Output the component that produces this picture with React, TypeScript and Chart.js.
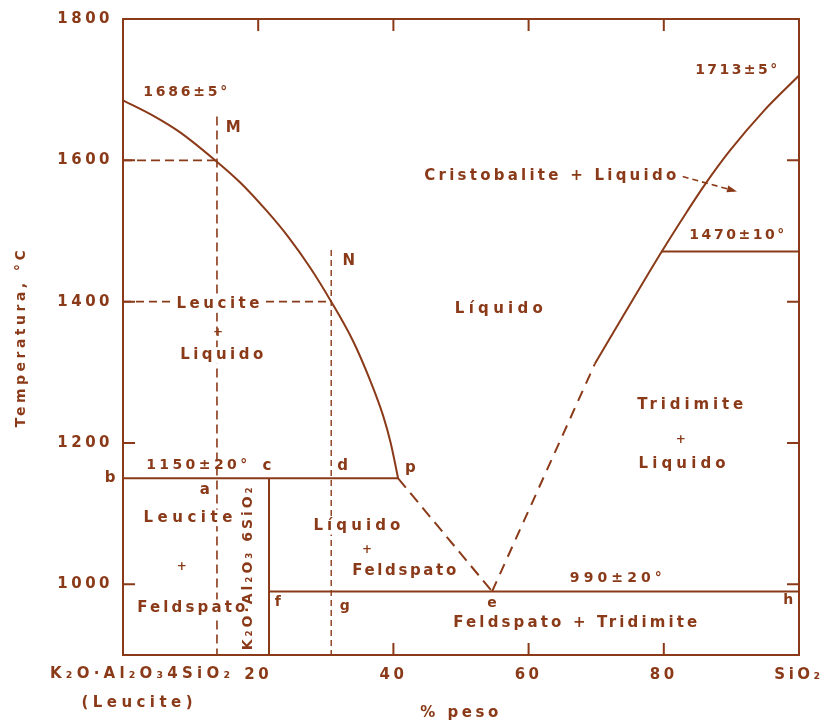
import React, { useEffect, useRef } from 'react';
import { Chart, registerables } from 'chart.js';

Chart.register(...registerables);

const INK = '#8a3a18';
const FONT = '"DejaVu Sans", sans-serif';

// ---- data (x = % peso SiO2 added to leucite, T = °C) ----
const leucLiqX = [0, 4.5, 8.4, 13.4, 17.3, 21.3, 24.5, 27.7, 30.8, 34.1, 36.5, 38.5, 39.6, 40.7];
const leucLiqT = [1685, 1663, 1640, 1602, 1569, 1528, 1491, 1448, 1400, 1343, 1290, 1238, 1200, 1150];
const solidusX = [0, 40.7];
const solidusT = [1150, 1150];
const compoundX = [21.6, 21.6];
const compoundT = [1150, 900];
const eutecticX = [21.6, 100];
const eutecticT = [990, 990];
const pToEX = [40.7, 54.6];
const pToET = [1150, 990];
const eUpX = [54.6, 69.8];
const eUpT = [990, 1312];
const silicaLiqX = [69.8, 74.0, 79.7, 83.4, 86.1, 89.8, 94.7, 100];
const silicaLiqT = [1312, 1380, 1471, 1527, 1566, 1614, 1669, 1720];
const inversionX = [79.7, 100];
const inversionT = [1471, 1471];
const mVertX = [13.9, 13.9];
const mVertT = [1662, 900];
const mHorX = [0, 13.9];
const mHorT = [1600, 1600];
const nVertX = [30.8, 30.8];
const nVertT = [1473, 900];
const nHorX = [0, 30.8];
const nHorT = [1400, 1400];

const xTickValues = [0, 20, 40, 60, 80, 100];
const yTickValues = [1000, 1200, 1400, 1600, 1800];
const topTickX = [20, 40, 60, 80];
const bottomTickX = [40, 60, 80];
const sideTickT = [1000, 1200, 1400, 1600];

type Lbl = { t: string; x: number; y: number; s?: number; w?: number; bg?: boolean; rot?: boolean };
const labels: Lbl[] = [
  { t: '1686±5°', x: 9.2, y: 1696, s: 14, w: 84 },
  { t: 'M', x: 16.3, y: 1646, s: 15 },
  { t: 'N', x: 33.4, y: 1457, s: 15 },
  { t: 'Leucite', x: 14.05, y: 1396, s: 15, w: 83, bg: true },
  { t: '+', x: 14.05, y: 1356, s: 12 },
  { t: 'Liquido', x: 14.6, y: 1324, s: 15, w: 83, bg: true },
  { t: 'Líquido', x: 55.6, y: 1389, s: 15, w: 88 },
  { t: 'Cristobalite + Liquido', x: 63.2, y: 1578, s: 15, w: 252 },
  { t: '1713±5°', x: 90.7, y: 1728, s: 14, w: 82 },
  { t: '1470±10°', x: 90.8, y: 1494, s: 14, w: 95 },
  { t: 'Tridimite', x: 83.9, y: 1254, s: 15, w: 106 },
  { t: '+', x: 82.5, y: 1205, s: 12 },
  { t: 'Liquido', x: 82.7, y: 1170, s: 15, w: 87 },
  { t: '1150±20°', x: 10.9, y: 1168, s: 14, w: 101 },
  { t: 'c', x: 21.3, y: 1167, s: 15 },
  { t: 'd', x: 32.5, y: 1167, s: 15 },
  { t: 'p', x: 42.5, y: 1164, s: 15 },
  { t: 'b', x: -1.9, y: 1150, s: 15 },
  { t: 'a', x: 12.1, y: 1134, s: 15 },
  { t: 'Leucite', x: 9.6, y: 1094, s: 15, w: 89, bg: true },
  { t: '+', x: 8.7, y: 1025, s: 12 },
  { t: 'Feldspato', x: 10.1, y: 967, s: 15, w: 108, bg: true },
  { t: 'Líquido', x: 34.6, y: 1082, s: 15, w: 87, bg: true },
  { t: '+', x: 36.1, y: 1049, s: 12 },
  { t: 'Feldspato', x: 41.6, y: 1019, s: 15, w: 104 },
  { t: 'f', x: 22.9, y: 974, s: 14 },
  { t: 'g', x: 32.8, y: 969, s: 14 },
  { t: '990±20°', x: 72.9, y: 1009, s: 14, w: 92 },
  { t: 'e', x: 54.6, y: 973, s: 14 },
  { t: 'h', x: 98.4, y: 977, s: 14 },
  { t: 'Feldspato + Tridimite', x: 66.9, y: 945, s: 15, w: 244 },
  { t: 'K₂O·Al₂O₃ 6SiO₂', x: 18.5, y: 1022, s: 14, w: 163, rot: true },
];

const arrowFrom = { x: 82.8, y: 1577 };
const arrowTo = { x: 90.4, y: 1557 };

const pts = (xs: number[], ts: number[]) => xs.map((x, i) => ({ x, y: ts[i] }));

function drawText(ctx: CanvasRenderingContext2D, text: string, px: number, py: number, size: number, target?: number, bg = false, rot = false) {
  ctx.save();
  ctx.font = `bold ${size}px ${FONT}`;
  (ctx as any).letterSpacing = '0px';
  const n = [...text].length;
  const base = ctx.measureText(text).width;
  const spacing = target && n > 1 ? Math.max(0, (target - base) / (n - 1)) : 0;
  const w = base + spacing * (n - 1);
  (ctx as any).letterSpacing = `${spacing}px`;
  ctx.textBaseline = 'middle';
  ctx.textAlign = 'left';
  ctx.translate(px, py);
  if (rot) ctx.rotate(-Math.PI / 2);
  if (bg) {
    ctx.fillStyle = '#ffffff';
    ctx.fillRect(-w / 2 - 3, -size * 0.55, w + 6, size * 1.1);
  }
  ctx.fillStyle = INK;
  ctx.fillText(text, -w / 2, 0);
  ctx.restore();
}

const annotatePlugin = {
  id: 'annotate',
  beforeDraw(chart: any) {
    chart.ctx.letterSpacing = '3.5px';
  },
  afterDraw(chart: any) {
    const { ctx, chartArea } = chart;
    const xs = chart.scales.x;
    const ys = chart.scales.y;
    ctx.save();
    ctx.letterSpacing = '0px';
    ctx.strokeStyle = INK;
    ctx.lineWidth = 2;
    ctx.setLineDash([]);
    ctx.beginPath();
    for (const v of sideTickT) {
      const py = ys.getPixelForValue(v);
      ctx.moveTo(chartArea.left, py);
      ctx.lineTo(chartArea.left + 12, py);
      ctx.moveTo(chartArea.right - 12, py);
      ctx.lineTo(chartArea.right, py);
    }
    for (const v of topTickX) {
      const px = xs.getPixelForValue(v);
      ctx.moveTo(px, chartArea.top);
      ctx.lineTo(px, chartArea.top + 12);
    }
    for (const v of bottomTickX) {
      const px = xs.getPixelForValue(v);
      ctx.moveTo(px, chartArea.bottom);
      ctx.lineTo(px, chartArea.bottom - 12);
    }
    ctx.stroke();

    // arrow next to "Cristobalite + Liquido"
    const ax0 = xs.getPixelForValue(arrowFrom.x), ay0 = ys.getPixelForValue(arrowFrom.y);
    const ax1 = xs.getPixelForValue(arrowTo.x), ay1 = ys.getPixelForValue(arrowTo.y);
    ctx.lineWidth = 1.6;
    ctx.setLineDash([6, 4]);
    ctx.beginPath();
    ctx.moveTo(ax0, ay0);
    ctx.lineTo(ax1, ay1);
    ctx.stroke();
    ctx.setLineDash([]);
    const ang = Math.atan2(ay1 - ay0, ax1 - ax0);
    ctx.fillStyle = INK;
    ctx.beginPath();
    ctx.moveTo(ax1 + 3 * Math.cos(ang), ay1 + 3 * Math.sin(ang));
    ctx.lineTo(ax1 - 7 * Math.cos(ang) + 3.5 * Math.sin(ang), ay1 - 7 * Math.sin(ang) - 3.5 * Math.cos(ang));
    ctx.lineTo(ax1 - 7 * Math.cos(ang) - 3.5 * Math.sin(ang), ay1 - 7 * Math.sin(ang) + 3.5 * Math.cos(ang));
    ctx.closePath();
    ctx.fill();

    for (const l of labels) {
      drawText(ctx, l.t, xs.getPixelForValue(l.x), ys.getPixelForValue(l.y), l.s ?? 15, l.w, !!l.bg, !!l.rot);
    }
    // x-axis label for the leucite end
    const lx = xs.getPixelForValue(0);
    drawText(ctx, 'K₂O·Al₂O₃4SiO₂', lx + 17, chartArea.bottom + 19, 15, 180);
    drawText(ctx, '(Leucite)', lx + 14, chartArea.bottom + 48, 15, 111);
    ctx.restore();
    ctx.letterSpacing = '0px';
  },
};

function lineDs(data: { x: number; y: number }[], opts: any = {}) {
  return {
    data,
    showLine: true,
    borderColor: INK,
    borderWidth: 2,
    pointRadius: 0,
    pointHoverRadius: 0,
    fill: false,
    tension: 0,
    ...opts,
  };
}

export default function App() {
  const ref = useRef<HTMLCanvasElement>(null);
  useEffect(() => {
    const tickFont = { family: FONT, size: 15, weight: 'bold' as const };
    const chart = new Chart(ref.current!, {
      type: 'scatter',
      data: {
        datasets: [
          lineDs(pts(leucLiqX, leucLiqT), { tension: 0.4, cubicInterpolationMode: 'monotone' }),
          lineDs(pts(solidusX, solidusT)),
          lineDs(pts(compoundX, compoundT)),
          lineDs(pts(eutecticX, eutecticT)),
          lineDs(pts(pToEX, pToET), { borderDash: [12, 7] }),
          lineDs(pts(eUpX, eUpT), { borderDash: [11, 8] }),
          lineDs(pts(silicaLiqX, silicaLiqT), { tension: 0.4, cubicInterpolationMode: 'monotone' }),
          lineDs(pts(inversionX, inversionT)),
          lineDs(pts(mVertX, mVertT), { borderDash: [9, 5], borderWidth: 1.6 }),
          lineDs(pts(mHorX, mHorT), { borderDash: [9, 5], borderWidth: 1.6 }),
          lineDs(pts(nVertX, nVertT), { borderDash: [6, 4], borderWidth: 1.4 }),
          lineDs(pts(nHorX, nHorT), { borderDash: [8, 5], borderWidth: 1.6 }),
        ],
      },
      options: {
        animation: false,
        responsive: true,
        maintainAspectRatio: false,
        layout: { padding: { top: 14, right: 35, bottom: 0, left: 0 } },
        plugins: { legend: { display: false }, tooltip: { enabled: false } },
        events: [],
        scales: {
          x: {
            type: 'linear',
            position: 'bottom',
            min: 0,
            max: 100,
            afterBuildTicks: (s: any) => {
              s.ticks = xTickValues.map((v) => ({ value: v }));
            },
            afterFit: (s: any) => {
              s.height = 70;
            },
            ticks: {
              color: INK,
              font: tickFont,
              padding: 11,
              maxRotation: 0,
              autoSkip: false,
              callback: (v: any) => (v === 0 ? '' : v === 100 ? 'SiO₂' : String(v)),
            },
            grid: { display: false, drawTicks: false },
            border: { color: INK, width: 2 },
            title: {
              display: true,
              text: '% peso',
              color: INK,
              font: { family: FONT, size: 15, weight: 'bold' },
              padding: { top: 0, bottom: 3 },
            },
          },
          y: {
            type: 'linear',
            position: 'left',
            min: 900,
            max: 1800,
            afterBuildTicks: (s: any) => {
              s.ticks = yTickValues.map((v) => ({ value: v }));
            },
            afterFit: (s: any) => {
              s.width = 123;
            },
            ticks: { color: INK, font: tickFont, padding: 10, autoSkip: false, callback: (v: any) => String(v) },
            grid: { display: false, drawTicks: false },
            border: { color: INK, width: 2 },
            title: {
              display: true,
              text: 'Temperatura, °C',
              color: INK,
              font: { family: FONT, size: 14, weight: 'bold' },
              padding: { top: 13, bottom: 0 },
            },
          },
          x2: {
            type: 'linear',
            axis: 'x',
            position: 'top',
            min: 0,
            max: 100,
            afterFit: (s: any) => {
              s.height = 0;
            },
            ticks: { display: false },
            grid: { display: false, drawTicks: false },
            border: { color: INK, width: 2 },
          },
          y2: {
            type: 'linear',
            axis: 'y',
            position: 'right',
            min: 900,
            max: 1800,
            afterFit: (s: any) => {
              s.width = 0;
            },
            ticks: { display: false },
            grid: { display: false, drawTicks: false },
            border: { color: INK, width: 2 },
          },
        },
      } as any,
      plugins: [annotatePlugin],
    });
    return () => chart.destroy();
  }, []);
  return (
    <div style={{ position: 'fixed', left: 0, top: 0, width: 834, height: 725, background: '#ffffff' }}>
      <canvas ref={ref} />
    </div>
  );
}
